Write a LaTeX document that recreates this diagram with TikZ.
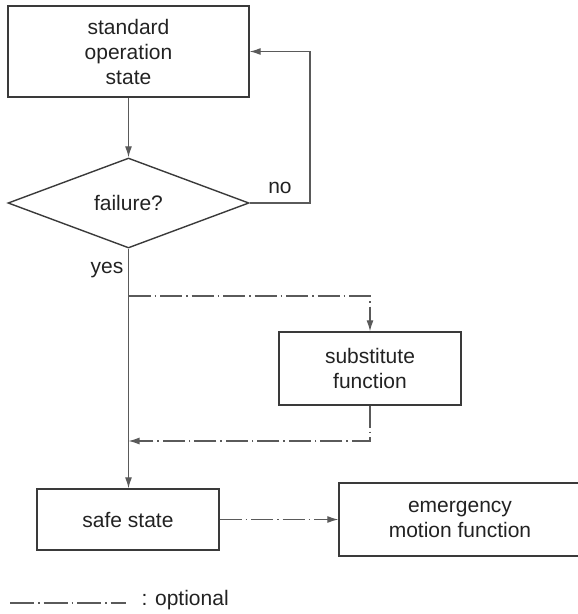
\documentclass[tikz,border=0pt]{standalone}
\usepackage{fontspec}
\setmainfont{Liberation Sans}
\usetikzlibrary{shapes.geometric,arrows.meta}
\definecolor{linegray}{HTML}{5A5A5A}
\definecolor{boxgray}{HTML}{3A3A3A}
\definecolor{txtgray}{HTML}{222222}
\begin{document}
\begin{tikzpicture}[x=1pt,y=-1pt,
  every node/.style={text=txtgray, font=\fontsize{21}{25}\selectfont},
  box/.style={draw=boxgray, line width=1.4pt, rectangle, inner sep=0pt, align=center},
  conn/.style={draw=linegray, line width=1.2pt},
  opt/.style={conn, dash pattern=on 22pt off 4pt on 1.5pt off 4pt},
  tip/.style={-{Latex[length=11pt,width=7pt]}}
]
\useasboundingbox (0,0) rectangle (578,614);
\node[box, minimum width=241pt, minimum height=91pt] (std) at (128.5,51.5) {standard\\operation\\state};
\node[diamond, draw=boxgray, line width=1.4pt, inner sep=0pt, minimum width=241pt, minimum height=90pt] (fail) at (128.5,203) {failure?};
\node[box, minimum width=182pt, minimum height=73pt] (sub) at (370,368.5) {substitute\\function};
\node[box, minimum width=182pt, minimum height=61pt] (safe) at (128,519.5) {safe state};
\node[box, minimum width=242pt, minimum height=73pt] (emg) at (460,519.5) {emergency\\motion function};
\node (no) at (280,188) {no};
\node (yes) at (107,270) {yes};
\coordinate (r1) at (310,203);
\coordinate (r2) at (310,51.5);
\coordinate (y1) at (128.5,296);
\coordinate (y2) at (370,296);
\coordinate (s1) at (370,441);
\coordinate (s2) at (128.5,441);
\draw[conn, tip] (std.south) -- (fail.north);
\draw[conn, tip] (fail.east) -- (r1) -- (r2) -- (std.east);
\draw[conn, tip] (fail.south) -- (safe.north -| fail.south);
\draw[opt, tip] (y1) -- (y2) -- (sub.north);
\draw[opt, tip] (sub.south) -- (s1) -- (s2);
\draw[opt, tip] (safe.east) -- (emg.west);
\coordinate (l1) at (10,603);
\coordinate (l2) at (126,603);
\draw[opt, dash pattern=on 24pt off 4pt on 1.5pt off 4pt] (l1) -- (l2);
\node[anchor=west] (optl) at (138,600) {: optional};
\end{tikzpicture}
\end{document}
